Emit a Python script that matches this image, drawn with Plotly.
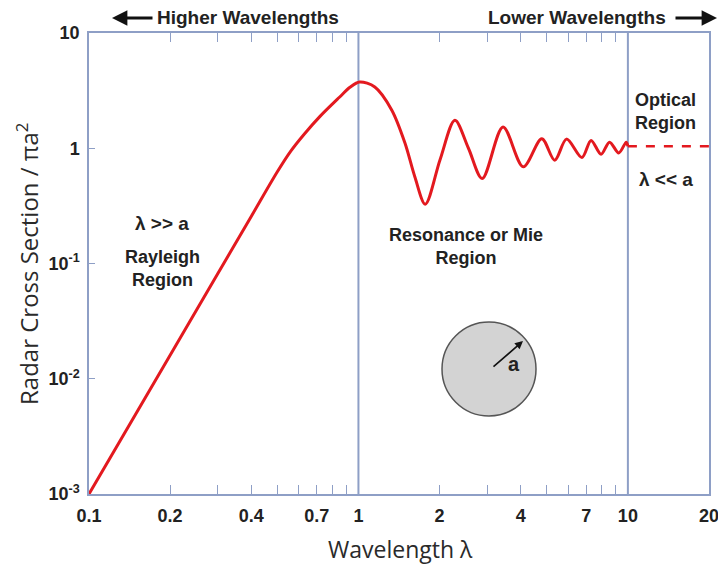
import plotly.graph_objects as go

# ---- data ----
ray_x = [0.1, 0.2, 0.3, 0.4, 0.5, 0.56, 0.63, 0.72, 0.85, 0.93, 1.01]
ray_y = [0.001, 0.016, 0.081, 0.256, 0.625, 0.94, 1.33, 1.89, 2.77, 3.38, 3.76]

mie_x = [1.01, 1.15, 1.33, 1.49, 1.62, 1.77, 2.01, 2.28, 2.56, 2.88, 3.44, 4.09, 4.79, 5.35, 5.92, 6.75, 7.30, 7.95, 8.55, 9.25, 9.86, 10.0]
mie_y = [3.76, 3.40, 2.14, 1.10, 0.563, 0.327, 0.80, 1.75, 1.0, 0.546, 1.53, 0.69, 1.21, 0.787, 1.20, 0.83, 1.17, 0.887, 1.13, 0.91, 1.13, 1.04]

opt_x = [10, 20]
opt_y = [1.04, 1.04]

x_tickvals = [0.1, 0.2, 0.4, 0.7, 1, 2, 4, 7, 10, 20]
x_ticktext = ["0.1", "0.2", "0.4", "0.7", "1", "2", "4", "7", "10", "20"]
x_minorvals = [0.3, 0.5, 0.6, 0.8, 0.9, 3, 5, 6, 8, 9]
y_tickvals = [0.001, 0.01, 0.1, 1, 10]
y_ticktext = ["10<sup>-3</sup>", "10<sup>-2</sup>", "10<sup>-1</sup>", "1", "10"]

region_lines = [1, 10]

# ---- layout geometry (page body has an 8px offset) ----
OFF = 8
W, H = 726 - OFF, 566 - OFF
PL, PR, PT, PB = 89, 709, 33, 494      # plot area in screen pixels
L, T = PL - OFF, PT - OFF
R, B = W - (PR - OFF), H - (PB - OFF)
PW, PH = PR - PL, PB - PT

def px(x):
    return (x - PL) / PW

def py(y):
    return (PB - y) / PH

RED = "#e3191f"
FRAME = "#8e9fc6"
FONT = "Liberation Sans, Arial, sans-serif"
TFONT = "Open Sans, sans-serif"

fig = go.Figure()

for xv in region_lines:
    fig.add_trace(go.Scatter(x=[xv, xv], y=[0.001, 10], mode="lines",
                             line=dict(color=FRAME, width=2), hoverinfo="skip",
                             showlegend=False))

fig.add_trace(go.Scatter(x=ray_x + mie_x[1:], y=ray_y + mie_y[1:], mode="lines",
                         line=dict(color=RED, width=3, shape="spline", smoothing=0.9),
                         showlegend=False))
fig.add_trace(go.Scatter(x=opt_x, y=opt_y, mode="lines",
                         line=dict(color=RED, width=2.5, dash="dash"),
                         showlegend=False))

fig.update_xaxes(type="log", range=[-1, 1.30103], tickvals=x_tickvals, ticktext=x_ticktext,
                 ticks="inside", ticklen=9, tickcolor=FRAME, tickwidth=1.2,
                 minor=dict(tickvals=x_minorvals, ticks="inside", ticklen=9,
                            tickcolor=FRAME, tickwidth=1.2, showgrid=False),
                 showline=True, linecolor=FRAME, linewidth=1.5, mirror="ticks",
                 showgrid=False, zeroline=False, automargin=False,
                 tickfont=dict(family=FONT, size=18, color="#222", weight="bold"),
                 ticklabelstandoff=5)
fig.update_yaxes(type="log", range=[-3, 1], tickvals=y_tickvals, ticktext=y_ticktext,
                 ticks="inside", ticklen=6, tickcolor=FRAME, tickwidth=1.2,
                 showline=True, linecolor=FRAME, linewidth=1.5, mirror=True,
                 showgrid=False, zeroline=False, automargin=False,
                 tickfont=dict(family=FONT, size=18, color="#222", weight="bold"),
                 ticklabelstandoff=4)

ann = []
def text(x, y, s, size=19, family=FONT, weight="bold", angle=0, color="#222"):
    ann.append(dict(x=px(x), y=py(y), xref="paper", yref="paper", text=s, showarrow=False,
                    font=dict(family=family, size=size, color=color, weight=weight),
                    textangle=angle, xanchor="center", yanchor="middle"))

# axis titles
text(401, 549, "Wavelength λ", 23, TFONT, "normal", color="#2a2a2a")
text(27, 264, "Radar Cross Section / πa<sup>2</sup>", 24, TFONT, "normal", angle=-90, color="#2a2a2a")

text(248, 18, "Higher Wavelengths", 19)
text(577, 18, "Lower Wavelengths", 19)
text(162, 223, "λ >> a", 19)
text(162, 268, "Rayleigh<br>Region", 18)
text(466, 246, "Resonance or Mie<br>Region", 18)
text(665, 112, "Optical<br>Region", 18)
text(666, 179, "λ << a", 19)
text(514, 364, "a", 20)

# arrows
ann.append(dict(x=px(112), y=py(18), xref="paper", yref="paper", text="", showarrow=True,
                ax=42, ay=0, arrowhead=2, arrowsize=1.1, arrowwidth=2.8, arrowcolor="#111"))
ann.append(dict(x=px(717), y=py(18), xref="paper", yref="paper", text="", showarrow=True,
                ax=-43, ay=0, arrowhead=2, arrowsize=1.1, arrowwidth=2.8, arrowcolor="#111"))
ann.append(dict(x=px(523), y=py(341), xref="paper", yref="paper", text="", showarrow=True,
                ax=-31, ay=27, arrowhead=2, arrowsize=1, arrowwidth=1.6, arrowcolor="#111"))

fig.update_layout(
    width=W, height=H, margin=dict(l=L, r=R, t=T, b=B, autoexpand=False),
    plot_bgcolor="white", paper_bgcolor="white",
    annotations=ann,
    shapes=[dict(type="circle", xref="paper", yref="paper",
                 x0=px(442), x1=px(536), y0=py(416), y1=py(322),
                 fillcolor="#d3d3d3", line=dict(color="#555", width=1.5), layer="below")],
)

fig.write_html("out.html")
